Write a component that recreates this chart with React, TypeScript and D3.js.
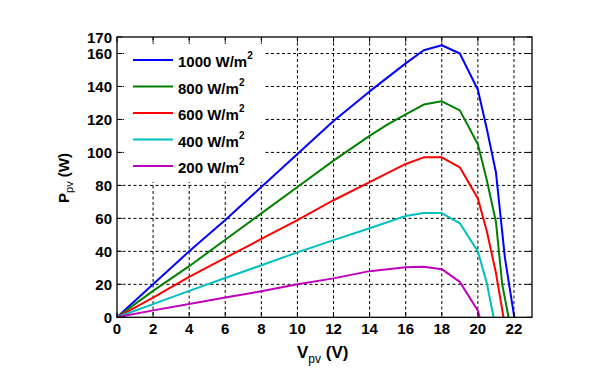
import * as d3 from 'd3'

// P-V curves of a PV module at different irradiance levels
const voltage1000 = [0, 2, 4, 6, 8, 10, 12, 14, 16, 17, 18, 19, 20, 20.5, 21, 21.5, 22.02]
const power1000 = [0, 20, 40, 59, 79, 99, 119, 137, 154, 162, 165, 160, 138, 114, 88, 36, 0]

const voltage800 = [0, 2, 4, 6, 8, 10, 12, 14, 15, 16, 17, 18, 19, 20, 20.5, 21, 21.35, 21.7]
const power800 = [0, 16, 31, 47, 63, 79, 95, 110, 117, 123, 129, 131, 125.5, 105, 83, 58, 20, 0]

const voltage600 = [0, 2, 4, 6, 8, 10, 12, 14, 16, 17, 18, 19, 20, 20.5, 21, 21.42]
const power600 = [0, 12, 24.5, 36, 47.5, 59, 71, 82, 93, 97, 97, 91, 72, 52, 27, 0]

const voltage400 = [0, 2, 4, 6, 8, 10, 12, 14, 16, 17, 18, 19, 20, 20.5, 20.87]
const power400 = [0, 8, 16, 23.8, 31.6, 39.4, 46.8, 54, 61.4, 63.2, 63.2, 57, 40, 20.5, 0]

const voltage200 = [0, 2, 4, 6, 8, 10, 12, 14, 16, 17, 18, 19, 20, 20.1]
const power200 = [0, 4.2, 8, 12, 15.8, 20, 23.6, 28, 30.3, 30.6, 29.2, 21.5, 4, 0]

const seriesNames = ['1000', '800', '600', '400', '200']
const seriesColors = ['#0000ff', '#008000', '#ff0000', '#00bfbf', '#bf00bf']
const seriesX = [voltage1000, voltage800, voltage600, voltage400, voltage200]
const seriesY = [power1000, power800, power600, power400, power200]

const xTicks = [0, 2, 4, 6, 8, 10, 12, 14, 16, 18, 20, 22]
const yTicks = [0, 20, 40, 60, 80, 100, 120, 140, 160, 170]
const yGrid = [20, 40, 60, 80, 100, 120, 140, 160]

const W = 603
const H = 387
const left = 117
const right = 532
const top = 37
const bottom = 317.3
const font = '"Liberation Sans", Arial, sans-serif'

export default function App() {
  const x = d3.scaleLinear().domain([0, 23]).range([left, right])
  const y = d3.scaleLinear().domain([0, 170]).range([bottom, top])
  const line = d3.line<[number, number]>().x(d => x(d[0])).y(d => y(d[1]))

  const series = seriesNames.map((name, i) => ({
    name,
    color: seriesColors[i],
    pts: seriesX[i].map((v, j) => [v, seriesY[i][j]] as [number, number]),
  }))

  const tick = 5
  const legendY = (i: number) => 60 + i * 26.5

  return (
    <div style={{ position: 'absolute', left: 0, top: 0 }}>
      <svg width={W} height={H} style={{ display: 'block', background: '#fff' }} fontFamily={font}>
        {/* grid */}
        <g stroke="#000" strokeWidth={1} strokeDasharray="3,2.5">
          {xTicks.filter(t => t > 0).map(t => (
            <line key={'gx' + t} x1={x(t)} x2={x(t)} y1={top} y2={bottom} />
          ))}
          {yGrid.map(t => (
            <line key={'gy' + t} x1={left} x2={right} y1={y(t)} y2={y(t)} />
          ))}
        </g>

        {/* legend background hides grid */}
        <rect x={124} y={44} width={141} height={138} fill="#fff" />

        {/* curves */}
        <g fill="none" strokeWidth={2} strokeLinejoin="round">
          {series.map(s => (
            <path key={s.name} d={line(s.pts) || ''} stroke={s.color} />
          ))}
        </g>

        {/* axes box + ticks */}
        <rect x={left} y={top} width={right - left} height={bottom - top} fill="none" stroke="#000" strokeWidth={1.3} />
        <g stroke="#000" strokeWidth={1}>
          {xTicks.map(t => (
            <g key={'tx' + t}>
              <line x1={x(t)} x2={x(t)} y1={bottom} y2={bottom - tick} />
              <line x1={x(t)} x2={x(t)} y1={top} y2={top + tick} />
            </g>
          ))}
          {yTicks.map(t => (
            <g key={'ty' + t}>
              <line x1={left} x2={left + tick} y1={y(t)} y2={y(t)} />
              <line x1={right} x2={right - tick} y1={y(t)} y2={y(t)} />
            </g>
          ))}
        </g>

        {/* tick labels */}
        <g fontSize={15} fontWeight="bold" fill="#000">
          {xTicks.map(t => (
            <text key={'lx' + t} x={x(t)} y={334} textAnchor="middle">{t}</text>
          ))}
          {yTicks.map(t => (
            <text key={'ly' + t} x={112} y={y(t) + 5.5} textAnchor="end">{t}</text>
          ))}
        </g>

        {/* axis labels */}
        <text x={297} y={358} fontSize={17} fontWeight="bold" fill="#000">
          V<tspan fontSize={12} fontWeight="normal" dy={5}>pv</tspan>
          <tspan dy={-5}> (V)</tspan>
        </text>
        <text transform="translate(69,203) rotate(-90)" fontSize={15} fontWeight="bold" fill="#000">
          P<tspan fontSize={11} fontWeight="normal" dy={4}>pv</tspan>
          <tspan dy={-4}> (W)</tspan>
        </text>

        {/* legend */}
        {series.map((s, i) => (
          <g key={'lg' + s.name}>
            <line x1={133} x2={173} y1={legendY(i)} y2={legendY(i)} stroke={s.color} strokeWidth={2} />
            <text x={178} y={legendY(i) + 7} fontSize={15} fontWeight="bold" fill="#000">
              {s.name} W/m<tspan fontSize={10} dy={-8}>2</tspan>
            </text>
          </g>
        ))}
      </svg>
    </div>
  )
}
